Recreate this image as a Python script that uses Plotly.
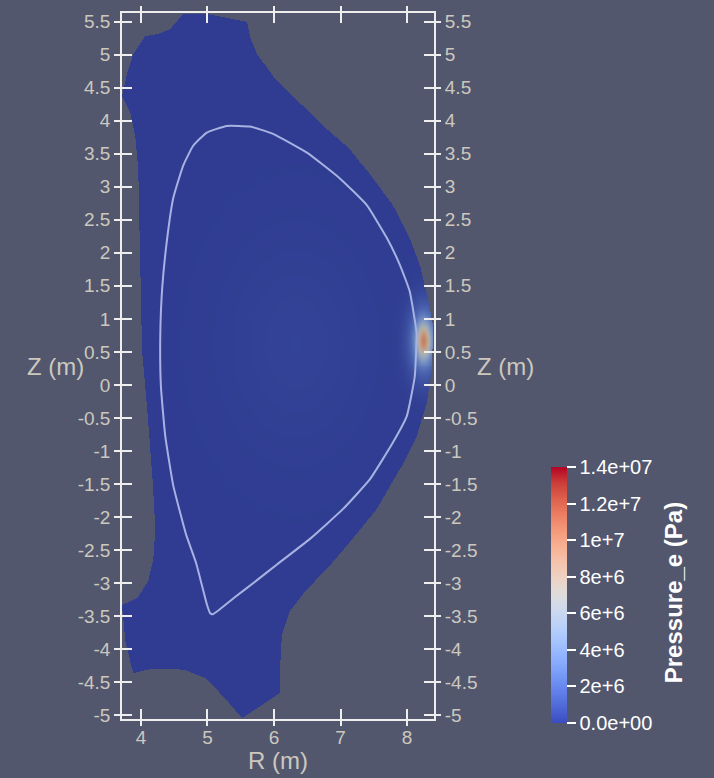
import numpy as np
import plotly.graph_objects as go

# ---------------- data ----------------
# outline of the computational domain (R, Z in metres), clockwise from the top
boundary_R = [4.635, 4.995, 5.595, 5.640, 5.745, 5.985, 6.390, 6.795, 7.140, 7.485,
              7.785, 8.040, 8.190, 8.310, 8.385, 8.385, 8.370, 8.296, 8.146, 7.890,
              7.545, 7.140, 6.795, 6.435, 6.240, 6.120, 6.090, 6.090, 5.520, 5.220,
              4.965, 4.665, 4.395, 4.140, 3.885, 3.765, 3.715, 3.944, 4.110, 4.185,
              4.215, 4.200, 4.170, 4.095, 4.020, 4.005, 3.990, 3.974, 3.959, 3.914,
              3.839, 3.715, 3.794, 3.884, 4.065, 4.260, 4.440]
boundary_Z = [5.617, 5.617, 5.497, 5.272, 5.017, 4.672, 4.267, 3.877, 3.577, 3.127,
              2.722, 2.227, 1.822, 1.327, 0.922, 0.622, 0.217, -0.278, -0.773, -1.283,
              -1.883, -2.377, -2.782, -3.172, -3.427, -3.772, -4.282, -4.672, -5.047, -4.702,
              -4.447, -4.327, -4.297, -4.312, -4.372, -3.877, -3.337, -3.232, -2.977, -2.632,
              -2.182, -1.882, -1.372, -0.382, 0.472, 1.027, 1.777, 2.527, 3.277, 3.772,
              4.117, 4.372, 4.717, 5.017, 5.287, 5.317, 5.392]

# separatrix / boundary contour line
sep_R = [5.290, 5.640, 5.985, 6.495, 6.990, 7.395, 7.695, 7.890, 8.040, 8.146,
         8.141, 8.116, 7.996, 7.785, 7.440, 7.035, 6.540, 6.045, 5.740, 5.400,
         5.085, 5.040, 4.990, 4.830, 4.680, 4.485, 4.365, 4.300, 4.290, 4.320,
         4.395, 4.485, 4.635, 4.785, 4.990, 5.290]
sep_Z = [3.922, 3.912, 3.802, 3.517, 3.127, 2.722, 2.227, 1.822, 1.417, 0.772,
         0.622, 0.127, -0.473, -0.877, -1.432, -1.882, -2.332, -2.720, -2.960, -3.225,
         -3.472, -3.457, -3.322, -2.700, -2.272, -1.522, -0.772, -0.022, 0.727, 1.477,
         2.227, 2.827, 3.322, 3.622, 3.822, 3.922]

# pressure features (centre R, centre Z, peak Pa, width R, width Z)
blob_R = [6.34, 8.25, 8.26]
blob_Z = [0.62, 0.67, 0.66]
blob_peak = [2.6e5, 7.0e6, 3.2e6]
blob_sR = [0.80, 0.075, 0.16]
blob_sZ = [1.20, 0.19, 0.38]

r_ticks = [4, 5, 6, 7, 8]
z_ticks = [-5, -4.5, -4, -3.5, -3, -2.5, -2, -1.5, -1, -0.5, 0,
           0.5, 1, 1.5, 2, 2.5, 3, 3.5, 4, 4.5, 5, 5.5]
z_tick_text = [f"{v:g}" for v in z_ticks]
cb_ticks = [0, 2e6, 4e6, 6e6, 8e6, 1e7, 1.2e7, 1.4e7]
cb_tick_text = ["0.0e+00", "2e+6", "4e+6", "6e+6", "8e+6", "1e+7", "1.2e+7", "1.4e+07"]

R_RANGE = [3.715, 8.405]
Z_RANGE = [-5.06, 5.632]
P_MAX = 1.4e7

# ---------------- styling ----------------
BG = "rgb(82,87,110)"
AX = "rgb(238,238,238)"
TXT = "rgb(204,200,190)"
FONT = "Liberation Sans"

cw = [(0.0, (59, 76, 192)), (0.0625, (77, 104, 215)), (0.125, (98, 130, 234)),
      (0.1875, (119, 154, 247)), (0.25, (141, 176, 254)), (0.3125, (163, 194, 255)),
      (0.375, (184, 208, 249)), (0.4375, (204, 217, 238)), (0.5, (221, 221, 221)),
      (0.5625, (236, 211, 197)), (0.625, (245, 196, 173)), (0.6875, (247, 177, 148)),
      (0.75, (244, 154, 123)), (0.8125, (236, 127, 99)), (0.875, (222, 96, 77)),
      (0.9375, (203, 62, 56)), (1.0, (180, 4, 38))]
cw_scale = [[p, f"rgb({r},{g},{b})"] for p, (r, g, b) in cw]
shade = (0.80, 0.79, 0.755)
cw_shaded = [[p, f"rgb({r*shade[0]:.0f},{g*shade[1]:.0f},{b*shade[2]:.0f})"] for p, (r, g, b) in cw]

# ---------------- field on a pixel-sized grid ----------------
nx, ny = 312, 713
dR = (R_RANGE[1] - R_RANGE[0]) / nx
dZ = (Z_RANGE[1] - Z_RANGE[0]) / ny
rg = R_RANGE[0] + dR * (np.arange(nx) + 0.5)
zg = Z_RANGE[0] + dZ * (np.arange(ny) + 0.5)
RR, ZZ = np.meshgrid(rg, zg)

field = np.zeros_like(RR)
for r0, z0, pk, sr, sz in zip(blob_R, blob_Z, blob_peak, blob_sR, blob_sZ):
    field += pk * np.exp(-0.5 * (((RR - r0) / sr) ** 2 + ((ZZ - z0) / sz) ** 2))


def inside_polygon(Rg, Zg, pr, pz):
    ins = np.zeros(Rg.shape, dtype=bool)
    n = len(pr)
    j = n - 1
    for i in range(n):
        ri, zi, rj, zj = pr[i], pz[i], pr[j], pz[j]
        cond = (zi > Zg) != (zj > Zg)
        denom = (zj - zi) if zj != zi else 1e-12
        xint = (rj - ri) * (Zg - zi) / denom + ri
        ins ^= cond & (Rg < xint)
        j = i
    return ins


mask = inside_polygon(RR, ZZ, boundary_R, boundary_Z)
field = np.where(mask, field, np.nan).astype(np.float32)

fig = go.Figure()
fig.add_trace(go.Heatmap(x=rg.astype(np.float32), y=zg.astype(np.float32), z=field,
                         zmin=0, zmax=P_MAX, colorscale=cw_shaded, showscale=False,
                         hoverinfo="skip"))
fig.add_trace(go.Scatter(x=sep_R, y=sep_Z, mode="lines",
                         line=dict(color="rgb(168,178,226)", width=2, shape="spline", smoothing=0.4),
                         hoverinfo="skip"))
# colour bar (unshaded colour map)
fig.add_trace(go.Scatter(x=[None], y=[None], mode="markers",
                         marker=dict(color=[0], cmin=0, cmax=P_MAX, colorscale=cw_scale, showscale=True,
                                     colorbar=dict(thickness=16, thicknessmode="pixels",
                                                   len=256, lenmode="pixels",
                                                   x=(551 - 122) / 312, xanchor="left", xpad=0,
                                                   y=1 - (593.7 - 6) / 713, yanchor="middle", ypad=0,
                                                   outlinewidth=0, tickvals=cb_ticks, ticktext=cb_tick_text,
                                                   ticks="outside", ticklen=9, tickwidth=1.5, tickcolor="white",
                                                   tickfont=dict(size=20, color="white", family=FONT))),
                         hoverinfo="skip"))
# helper traces for the overlay axes (inner ticks, right labels)
fig.add_trace(go.Scatter(x=[None], y=[None], xaxis="x2", yaxis="y2", hoverinfo="skip"))
fig.add_trace(go.Scatter(x=[None], y=[None], xaxis="x", yaxis="y3", hoverinfo="skip"))

tickfont = dict(size=19, color=TXT, family=FONT)
common = dict(showgrid=False, zeroline=False, tickwidth=1.5, tickcolor=AX)

fig.update_layout(
    width=714, height=778, margin=dict(l=122, r=280, t=6, b=59),
    paper_bgcolor=BG, plot_bgcolor=BG, showlegend=False,
    xaxis=dict(range=R_RANGE, tickvals=r_ticks, ticks="outside", ticklen=5, showline=True,
               linecolor=AX, linewidth=1.5, mirror="ticks", tickfont=tickfont,
               ticklabelstandoff=-5, **common),
    xaxis2=dict(overlaying="x", anchor="y", range=R_RANGE, tickvals=r_ticks, ticks="inside",
                ticklen=10, mirror="ticks", showline=False, showticklabels=False, **common),
    yaxis=dict(range=Z_RANGE, tickvals=z_ticks, ticktext=z_tick_text, ticks="outside", ticklen=6,
               showline=True, linecolor=AX, linewidth=1.5, mirror=True, tickfont=tickfont, **common),
    yaxis2=dict(overlaying="y", anchor="x", range=Z_RANGE, tickvals=z_ticks, ticks="inside",
                ticklen=10, mirror="ticks", showline=False, showticklabels=False, **common),
    yaxis3=dict(overlaying="y", anchor="x", side="right", range=Z_RANGE, tickvals=z_ticks,
                ticktext=z_tick_text, ticks="outside", ticklen=6, showline=False,
                tickfont=tickfont, **common),
    annotations=[
        dict(text="R (m)", xref="paper", yref="paper", x=(277.5 - 122) / 312, y=1 - (761 - 6) / 713,
             xanchor="center", yanchor="middle", showarrow=False, font=dict(size=24, color=TXT, family=FONT)),
        dict(text="Z (m)", xref="paper", yref="paper", x=(55 - 122) / 312, y=1 - (363 - 6) / 713,
             xanchor="center", yanchor="middle", showarrow=False, font=dict(size=24, color=TXT, family=FONT)),
        dict(text="Z (m)", xref="paper", yref="paper", x=(505 - 122) / 312, y=1 - (363 - 6) / 713,
             xanchor="center", yanchor="middle", showarrow=False, font=dict(size=24, color=TXT, family=FONT)),
        dict(text="<b>Pressure_e (Pa)</b>", xref="paper", yref="paper", x=(673 - 122) / 312,
             y=1 - (592 - 6) / 713, xanchor="center", yanchor="middle", textangle=-90, showarrow=False,
             font=dict(size=24, color="white", family=FONT)),
    ],
)

fig.write_html("out.html", config={"displayModeBar": False},
               post_script="document.body.style.margin='0px';")
